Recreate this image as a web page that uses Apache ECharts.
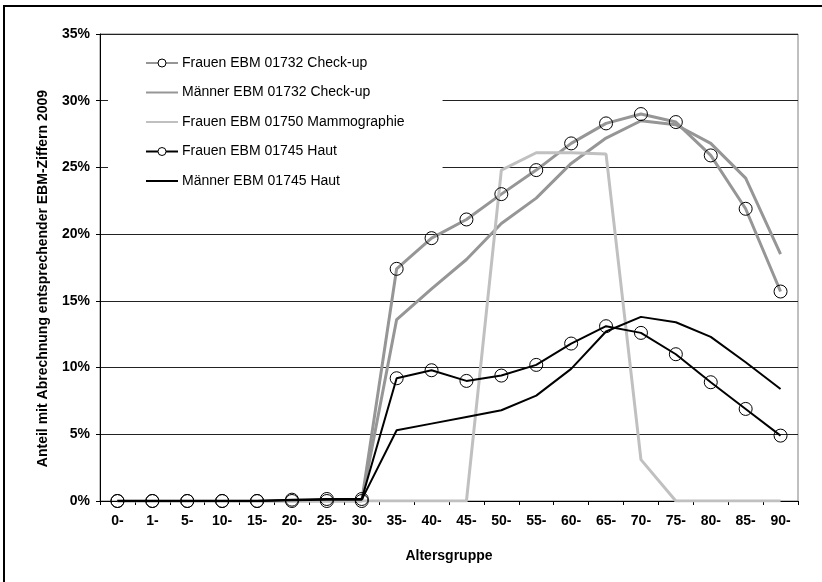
<!DOCTYPE html>
<html>
<head>
<meta charset="utf-8">
<script src="https://cdn.jsdelivr.net/npm/echarts@6/dist/echarts.min.js"></script>
<style>
  html, body { margin: 0; padding: 0; background: #fff; }
  #chart { width: 822px; height: 582px; }
</style>
</head>
<body>
<div id="chart"></div>
<script>
// Age groups
const categories = ['0-', '1-', '5-', '10-', '15-', '20-', '25-', '30-', '35-', '40-', '45-',
  '50-', '55-', '60-', '65-', '70-', '75-', '80-', '85-', '90-'];

// Share (%) with billing of the respective EBM code, 2009
const frauenCheckup = [0, 0, 0, 0, 0, 0, 0, 0, 17.4, 19.7, 21.1, 23.0, 24.8, 26.8, 28.3, 29.0, 28.4, 25.9, 21.9, 15.7];
const maennerCheckup = [0, 0, 0, 0, 0, 0, 0, 0, 13.6, 15.9, 18.1, 20.8, 22.7, 25.3, 27.2, 28.5, 28.2, 26.8, 24.2, 18.5];
const frauenMammographie = [0, 0, 0, 0, 0, 0, 0, 0, 0, 0, 0, 24.8, 26.1, 26.1, 26.0, 3.1, 0, 0, 0, 0];
const frauenHaut = [0, 0, 0, 0, 0, 0.1, 0.15, 0.15, 9.2, 9.8, 9.0, 9.4, 10.2, 11.8, 13.1, 12.6, 11.0, 8.9, 6.9, 4.9];
const maennerHaut = [0, 0, 0, 0, 0, 0.05, 0.1, 0.1, 5.3, 5.8, 6.3, 6.8, 7.9, 9.9, 12.7, 13.8, 13.4, 12.3, 10.4, 8.4];

const seriesNames = [
  'Frauen EBM 01732 Check-up',
  'Männer EBM 01732 Check-up',
  'Frauen EBM 01750 Mammographie',
  'Frauen EBM 01745 Haut',
  'Männer EBM 01745 Haut'
];

const FONT = '"Liberation Sans", Arial, sans-serif';
const GRAY = '#969696';
const LIGHT = '#c0c0c0';

const circleMarker = {
  symbol: 'circle',
  symbolSize: 13,
  showSymbol: true,
  itemStyle: { color: 'rgba(0,0,0,0)', borderColor: '#000', borderWidth: 1 }
};

function lineSeries(name, data, color, width, withMarker) {
  const s = {
    name: name,
    type: 'line',
    data: data,
    lineStyle: { color: color, width: width },
    emphasis: { disabled: true },
    silent: true
  };
  if (withMarker) {
    Object.assign(s, circleMarker);
  } else {
    s.symbol = 'none';
    s.itemStyle = { color: color };
  }
  return s;
}

const chart = echarts.init(document.getElementById('chart'), null, { renderer: 'canvas' });

chart.setOption({
  animation: false,
  backgroundColor: '#fff',
  textStyle: { fontFamily: FONT },
  graphic: [{
    type: 'rect',
    shape: { x: 4, y: 6, width: 1200, height: 1200 },
    style: { fill: 'none', stroke: '#000', lineWidth: 2 },
    silent: true
  }],
  grid: {
    left: 100, right: 24, top: 34, bottom: 81,
    show: true, borderColor: '#808080', borderWidth: 1, backgroundColor: 'transparent'
  },
  legend: {
    orient: 'vertical',
    left: 108,
    top: 37,
    padding: [19, 38, 37, 37],
    backgroundColor: '#fff',
    itemWidth: 32,
    itemHeight: 10,
    itemGap: 15.5,
    selectedMode: false,
    textStyle: { fontFamily: FONT, fontSize: 14, color: '#000', lineHeight: 14, padding: [0, 0, 0, -1] },
    data: [
      { name: seriesNames[0], itemStyle: { color: '#fff', borderColor: '#000', borderWidth: 1 } },
      { name: seriesNames[1], itemStyle: { opacity: 0 } },
      { name: seriesNames[2], itemStyle: { opacity: 0 } },
      { name: seriesNames[3], itemStyle: { color: '#fff', borderColor: '#000', borderWidth: 1 } },
      { name: seriesNames[4], itemStyle: { opacity: 0 } }
    ]
  },
  xAxis: {
    type: 'category',
    data: categories,
    boundaryGap: true,
    name: 'Altersgruppe',
    nameLocation: 'middle',
    nameGap: 48,
    nameTextStyle: { fontFamily: FONT, fontSize: 14, fontWeight: 'bold', color: '#000' },
    axisLine: { lineStyle: { color: '#000', width: 1 } },
    axisTick: { show: true, length: 4, lineStyle: { color: '#000' } },
    axisLabel: { fontFamily: FONT, fontSize: 14, fontWeight: 'bold', color: '#000', margin: 13, interval: 0 },
    splitLine: { show: false }
  },
  yAxis: {
    type: 'value',
    min: 0,
    max: 35,
    interval: 5,
    name: 'Anteil mit Abrechnung entsprechender EBM-Ziffern 2009',
    nameLocation: 'middle',
    nameGap: 50,
    nameRotate: 90,
    nameTextStyle: { fontFamily: FONT, fontSize: 14, fontWeight: 'bold', color: '#000', padding: [0, 22, 0, 0] },
    axisLine: { show: true, lineStyle: { color: '#000', width: 1 } },
    axisTick: { show: true, length: 4, lineStyle: { color: '#000' } },
    axisLabel: { fontFamily: FONT, fontSize: 14, fontWeight: 'bold', color: '#000', margin: 10, formatter: '{value}%' },
    splitLine: { show: true, lineStyle: { color: '#222', width: 1 } }
  },
  series: [
    lineSeries(seriesNames[0], frauenCheckup, GRAY, 3, true),
    lineSeries(seriesNames[1], maennerCheckup, GRAY, 3, false),
    lineSeries(seriesNames[2], frauenMammographie, LIGHT, 3, false),
    lineSeries(seriesNames[3], frauenHaut, '#000', 2, true),
    lineSeries(seriesNames[4], maennerHaut, '#000', 2, false)
  ]
});
</script>
</body>
</html>
